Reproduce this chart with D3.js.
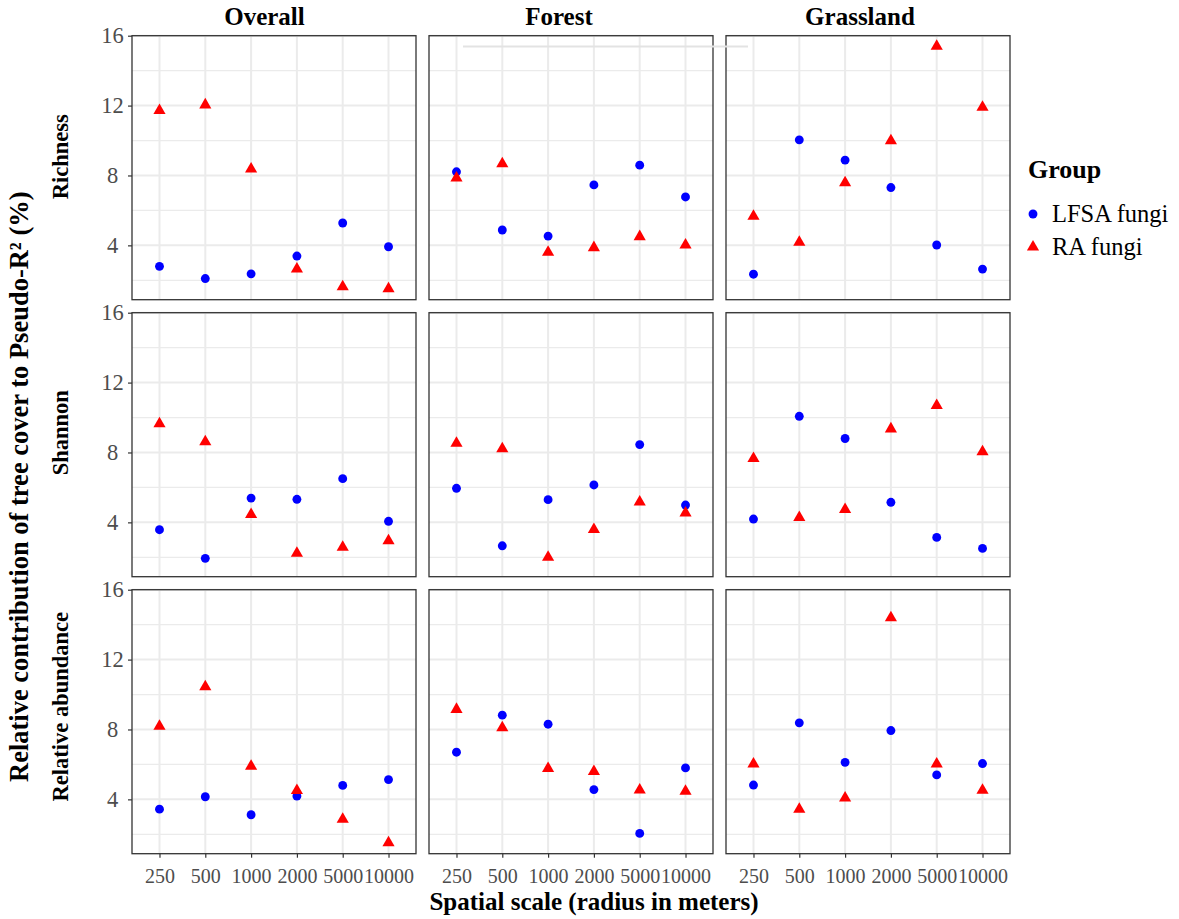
<!DOCTYPE html>
<html>
<head>
<meta charset="utf-8">
<script src="https://cdn.jsdelivr.net/npm/d3@7"></script>
<style>
  body { margin: 0; background: #fff; }
  svg { display: block; font-family: "Liberation Serif", "Times New Roman", serif; }
</style>
</head>
<body>
<div id="chart"></div>
<script>
const scales = ['250', '500', '1000', '2000', '5000', '10000'];
const habitats = ['Overall', 'Forest', 'Grassland'];
const metrics = ['Richness', 'Shannon', 'Relative abundance'];
const groups = ['LFSA fungi', 'RA fungi'];
const yTicks = [4, 8, 12, 16];

// rows: Overall, Forest, Grassland
const lfsaRichness = [
    [2.80, 2.10, 2.37, 3.39, 5.28, 3.92],
    [8.21, 4.88, 4.53, 7.46, 8.59, 6.77],
    [2.35, 10.04, 8.88, 7.31, 4.02, 2.64]
];
const raRichness = [
    [11.72, 12.04, 8.37, 2.65, 1.63, 1.52],
    [7.85, 8.67, 3.61, 3.87, 4.50, 4.02],
    [5.67, 4.18, 7.58, 9.99, 15.39, 11.91]
];
const lfsaShannon = [
    [3.58, 1.94, 5.39, 5.32, 6.50, 4.06],
    [5.95, 2.66, 5.30, 6.14, 8.45, 4.99],
    [4.19, 10.07, 8.80, 5.15, 3.14, 2.51]
];
const raShannon = [
    [9.64, 8.61, 4.45, 2.23, 2.57, 2.95],
    [8.53, 8.21, 2.00, 3.59, 5.17, 4.54],
    [7.66, 4.28, 4.74, 9.35, 10.69, 8.04]
];
const lfsaAbundance = [
    [3.44, 4.15, 3.12, 4.19, 4.80, 5.13],
    [6.70, 8.82, 8.30, 4.56, 2.05, 5.80],
    [4.82, 8.38, 6.12, 7.94, 5.40, 6.05]
];
const raAbundance = [
    [8.18, 10.44, 5.90, 4.51, 2.86, 1.52],
    [9.15, 8.10, 5.77, 5.60, 4.54, 4.47],
    [6.03, 3.43, 4.08, 14.40, 6.03, 4.52]
];

const lfsaByMetric = [lfsaRichness, lfsaShannon, lfsaAbundance];
const raByMetric = [raRichness, raShannon, raAbundance];

const width = 1179, height = 919;
const marginLeft = 132, marginTop = 35.7;
const pw = 284, ph = 264, gap = 13;
const colors = { 'LFSA fungi': '#0000ff', 'RA fungi': '#ff0000' };

const svg = d3.select('#chart').append('svg')
    .attr('width', width)
    .attr('height', height);

const x = d3.scalePoint().domain(scales).range([0, pw]).padding(0.6);
const y = d3.scaleLinear().domain([0.89, 16]).range([ph, 0]);

const circle = d3.symbol().type(d3.symbolCircle).size(62);
const triangle = d3.symbol().type(d3.symbolTriangle).size(64);

// strip titles sit a little left of the panel centres in the original
const stripShift = [-9.5, -12, -8];
const rowShift = [-11, -12, -15];

metrics.forEach((metric, r) => {
    habitats.forEach((habitat, c) => {
        const px = marginLeft + c * (pw + gap);
        const py = marginTop + r * (ph + gap);
        const g = svg.append('g').attr('transform', `translate(${px},${py})`);

        // grid
        g.selectAll('.minor').data([2, 6, 10, 14]).join('line')
            .attr('x1', 0).attr('x2', pw)
            .attr('y1', d => y(d)).attr('y2', d => y(d))
            .attr('stroke', '#ebebeb').attr('stroke-width', 1.2);
        g.selectAll('.major').data(yTicks).join('line')
            .attr('x1', 0).attr('x2', pw)
            .attr('y1', d => y(d)).attr('y2', d => y(d))
            .attr('stroke', '#ebebeb').attr('stroke-width', 2);
        g.selectAll('.vgrid').data(scales).join('line')
            .attr('x1', d => x(d)).attr('x2', d => x(d))
            .attr('y1', 0).attr('y2', ph)
            .attr('stroke', '#ebebeb').attr('stroke-width', 2);

        const series = [
            { group: 'LFSA fungi', values: lfsaByMetric[r][c], sym: circle },
            { group: 'RA fungi', values: raByMetric[r][c], sym: triangle }
        ];
        series.forEach(s => {
            g.append('g').selectAll('path')
                .data(s.values)
                .join('path')
                .attr('d', s.sym)
                .attr('transform', (v, i) => `translate(${x(scales[i])},${y(v)})`)
                .attr('fill', colors[s.group]);
        });

        g.append('rect')
            .attr('width', pw).attr('height', ph)
            .attr('fill', 'none')
            .attr('stroke', '#333').attr('stroke-width', 1.3);

        if (c === 0) {
            const ay = g.append('g').call(d3.axisLeft(y).tickValues(yTicks).tickSize(4).tickPadding(2));
            ay.select('.domain').remove();
            ay.selectAll('line').attr('stroke', '#333').attr('stroke-width', 1.2);
            ay.selectAll('text')
                .attr('x', -19.5)
                .attr('text-anchor', 'middle')
                .attr('fill', '#4d4d4d')
                .attr('font-size', 22.5).attr('font-family', 'Liberation Serif');
        }
        if (r === metrics.length - 1) {
            const ax = g.append('g').attr('transform', `translate(0,${ph})`)
                .call(d3.axisBottom(x).tickSize(4).tickPadding(11));
            ax.select('.domain').remove();
            ax.selectAll('line').attr('stroke', '#333').attr('stroke-width', 1.2);
            ax.selectAll('text').attr('fill', '#4d4d4d')
                .attr('font-size', 20).attr('font-family', 'Liberation Serif');
        }
        if (r === 0) {
            svg.append('text')
                .attr('x', px + pw / 2 + stripShift[c]).attr('y', 25)
                .attr('text-anchor', 'middle')
                .attr('font-size', 25).attr('font-weight', 'bold')
                .text(habitat);
        }
    });

    // row strip label
    svg.append('text')
        .attr('transform', `translate(68,${marginTop + r * (ph + gap) + ph / 2 + rowShift[r]}) rotate(-90)`)
        .attr('text-anchor', 'middle')
        .attr('font-size', 22.5).attr('font-weight', 'bold')
        .text(metric);
});

// faint stray line across the top of the Forest/Grassland strip
svg.append('line')
    .attr('x1', 463).attr('x2', 748).attr('y1', 46.5).attr('y2', 46.5)
    .attr('stroke', '#e3e3e3').attr('stroke-width', 2);

// axis titles
svg.append('text')
    .attr('x', 594).attr('y', 910)
    .attr('text-anchor', 'middle')
    .attr('font-size', 25).attr('font-weight', 'bold')
    .text('Spatial scale (radius in meters)');

svg.append('text')
    .attr('transform', `translate(28,782) rotate(-90)`)
    .attr('text-anchor', 'start')
    .attr('font-size', 26.5).attr('font-weight', 'bold')
    .text('Relative contribution of tree cover to Pseudo-R² (%)');

// legend
const legend = svg.append('g').attr('transform', 'translate(1028,0)');
legend.append('text')
    .attr('x', 0).attr('y', 178)
    .attr('font-size', 26).attr('font-weight', 'bold')
    .text('Group');
const items = legend.selectAll('.item').data(groups).join('g')
    .attr('transform', (d, i) => `translate(5,${214 + i * 33})`);
items.append('path')
    .attr('d', (d, i) => (i === 0 ? circle : triangle)())
    .attr('fill', d => colors[d]);
items.append('text')
    .attr('x', 19).attr('y', 8)
    .attr('font-size', 24.5)
    .text(d => d);
</script>
</body>
</html>
